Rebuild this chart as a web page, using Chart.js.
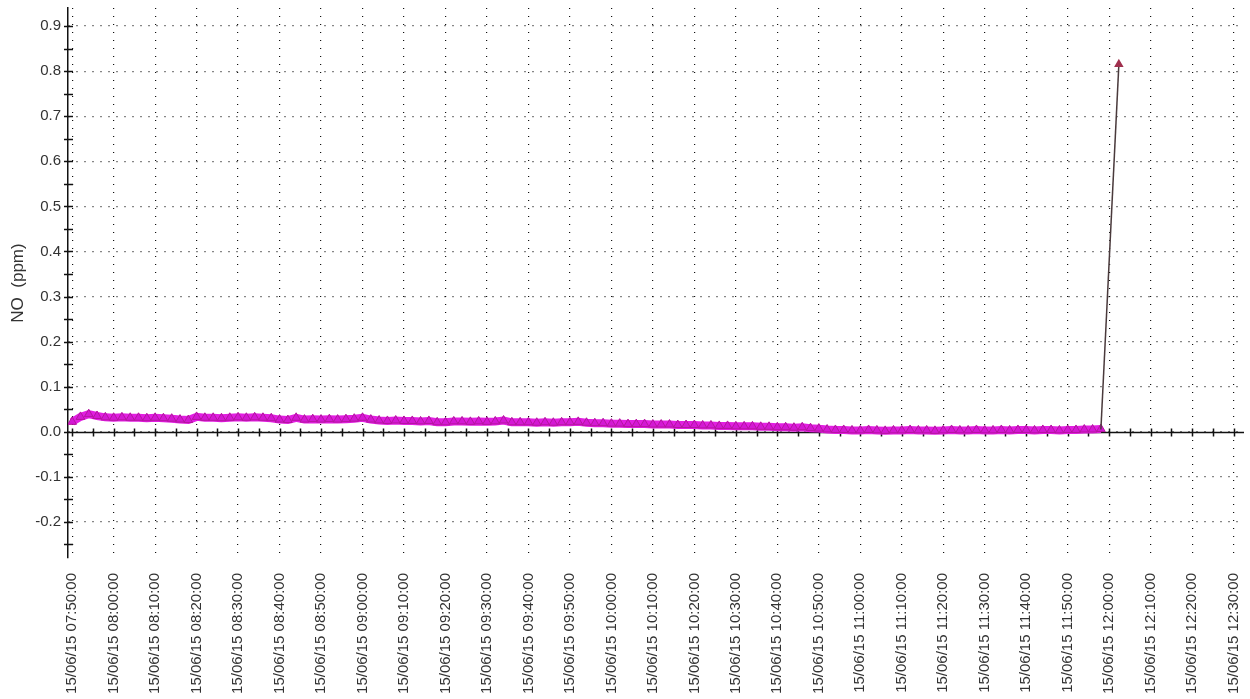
<!DOCTYPE html>
<html>
<head>
<meta charset="utf-8">
<script src="https://cdn.jsdelivr.net/npm/chart.js@4.4.1/dist/chart.umd.min.js"></script>
<style>
	html, body { margin: 0; padding: 0; background: #fff; }
	#wrap { width: 1250px; height: 699px; }
</style>
</head>
<body>
<div id="wrap"><canvas id="chart" width="1250" height="699"></canvas></div>
<script>
// NO readings, one every 2 minutes from 07:50
var noStart = '07:50';
var noStepMin = 2;
var noValues = [
	0.022, 0.033, 0.039, 0.035, 0.032, 0.031, 0.032, 0.031, 0.031, 0.030,
	0.031, 0.030, 0.029, 0.027, 0.026, 0.033, 0.031, 0.031, 0.030, 0.031,
	0.032, 0.031, 0.032, 0.031, 0.030, 0.027, 0.026, 0.031, 0.027, 0.028,
	0.027, 0.028, 0.027, 0.028, 0.029, 0.031, 0.027, 0.025, 0.024, 0.025,
	0.024, 0.024, 0.023, 0.024, 0.021, 0.021, 0.023, 0.023, 0.022, 0.023,
	0.022, 0.023, 0.025, 0.021, 0.021, 0.021, 0.020, 0.021, 0.020, 0.021,
	0.021, 0.022, 0.020, 0.019, 0.019, 0.018, 0.018, 0.017, 0.017, 0.017,
	0.016, 0.016, 0.016, 0.015, 0.015, 0.015, 0.014, 0.014, 0.013, 0.013,
	0.012, 0.012, 0.012, 0.011, 0.011, 0.010, 0.010, 0.009, 0.010, 0.008,
	0.007, 0.005, 0.004, 0.004, 0.003, 0.003, 0.004, 0.003, 0.002, 0.003,
	0.003, 0.004, 0.003, 0.003, 0.002, 0.003, 0.004, 0.003, 0.003, 0.004,
	0.003, 0.003, 0.004, 0.003, 0.004, 0.004, 0.003, 0.004, 0.004, 0.003,
	0.004, 0.004, 0.005, 0.005, 0.006
];

// the jump at the end of the record
var spikeTimes = ['11:58:00', '12:02:20'];
var spikeValues = [0.005, 0.815];

var xTickTimes = [
	'07:50', '08:00', '08:10', '08:20', '08:30', '08:40', '08:50', '09:00',
	'09:10', '09:20', '09:30', '09:40', '09:50', '10:00', '10:10', '10:20',
	'10:30', '10:40', '10:50', '11:00', '11:10', '11:20', '11:30', '11:40',
	'11:50', '12:00', '12:10', '12:20', '12:30'
];
var xMinorStepMin = 5;
var yTicks = [-0.2, -0.1, 0.0, 0.1, 0.2, 0.3, 0.4, 0.5, 0.6, 0.7, 0.8, 0.9];
var yMinorStep = 0.05;
var dateLabel = '15/06/15';
var xMin = '07:49', xMax = '12:32:30';
var yMin = -0.28, yMax = 0.94;

function toMin(t) {
	var p = t.split(':');
	return +p[0] * 60 + +p[1] + (p[2] ? +p[2] / 60 : 0);
}
function fmtMin(m) {
	var h = Math.floor(m / 60), mm = Math.round(m % 60);
	return dateLabel + ' ' + (h < 10 ? '0' : '') + h + ':' + (mm < 10 ? '0' : '') + mm + ':00';
}

var noPoints = noValues.map(function(v, i) {
	return { x: toMin(noStart) + i * noStepMin, y: v };
});
var spikePoints = spikeTimes.map(function(t, i) {
	return { x: toMin(t), y: spikeValues[i] };
});

// axes crossing at zero, with tick marks through them
var crossAxes = {
	id: 'crossAxes',
	beforeDatasetsDraw: function(chart) {
		var ctx = chart.ctx, xs = chart.scales.x, ys = chart.scales.y, a = chart.chartArea;
		var y0 = Math.round(ys.getPixelForValue(0)) + 0.5;
		ctx.save();
		ctx.strokeStyle = '#111';
		ctx.lineWidth = 1.5;
		ctx.beginPath();
		ctx.moveTo(a.left, y0);
		ctx.lineTo(a.right, y0);
		var first = toMin(xTickTimes[0]), last = toMin(xTickTimes[xTickTimes.length - 1]);
		for (var m = first; m <= last; m += xMinorStepMin) {
			var px = Math.round(xs.getPixelForValue(m)) + 0.5;
			ctx.moveTo(px, y0 - 4);
			ctx.lineTo(px, y0 + 4);
		}
		for (var v = -0.25; v < ys.max; v += yMinorStep) {
			var py = Math.round(ys.getPixelForValue(v)) + 0.5;
			ctx.moveTo(a.left - 4, py);
			ctx.lineTo(a.left + 5, py);
		}
		ctx.stroke();
		ctx.restore();
	}
};

var font = "'Liberation Sans', Arial, sans-serif";
var ctx = document.getElementById('chart').getContext('2d');
var chart = new Chart(ctx, {
	type: 'line',
	data: {
		datasets: [{
			label: 'NO spike',
			data: spikePoints,
			borderColor: '#4a3a3c',
			borderWidth: 1.5,
			pointStyle: 'triangle',
			pointRadius: [0, 4],
			pointBackgroundColor: '#a0304e',
			pointBorderColor: '#a0304e',
			order: 1
		}, {
			label: 'NO',
			data: noPoints,
			borderColor: '#e21ee2',
			borderWidth: 8,
			pointStyle: 'triangle',
			pointRadius: 5,
			pointBackgroundColor: '#d418d4',
			pointBorderColor: '#b5149f',
			pointBorderWidth: 1,
			order: 2
		}]
	},
	options: {
		responsive: false,
		animation: false,
		layout: { padding: { top: 8, right: 0, bottom: 0, left: 0 } },
		plugins: {
			legend: { display: false },
			tooltip: { enabled: false }
		},
		scales: {
			x: {
				type: 'linear',
				min: toMin(xMin),
				max: toMin(xMax),
				bounds: 'data',
				afterBuildTicks: function(s) {
					s.ticks = xTickTimes.map(function(t) { return { value: toMin(t) }; });
				},
				afterFit: function(s) {
					s.height = 141;
					s.paddingLeft = 0;
					s.paddingRight = 0;
				},
				grid: { color: '#111', lineWidth: 1.2, drawTicks: false },
				border: { display: false, dash: [1, 7] },
				ticks: {
					minRotation: 90,
					maxRotation: 90,
					autoSkip: false,
					padding: 15,
					color: '#333',
					font: { family: font, size: 15 },
					callback: function(v) { return fmtMin(v); }
				}
			},
			y: {
				type: 'linear',
				min: yMin,
				max: yMax,
				bounds: 'data',
				afterBuildTicks: function(s) {
					s.ticks = yTicks.map(function(v) { return { value: v }; });
				},
				afterFit: function(s) {
					s.width = 68;
					s.paddingTop = 0;
					s.paddingBottom = 0;
				},
				grid: { color: '#111', lineWidth: 1.2, drawTicks: false },
				border: { display: true, color: '#111', width: 1.5, dash: [1, 7] },
				ticks: {
					padding: 7,
					color: '#333',
					font: { family: font, size: 15 },
					callback: function(v) { return v.toFixed(1); }
				},
				title: {
					display: true,
					text: 'NO  (ppm)',
					color: '#333',
					font: { family: font, size: 17 },
					padding: { top: 8, bottom: 0 }
				}
			}
		}
	},
	plugins: [crossAxes]
});
</script>
</body>
</html>
